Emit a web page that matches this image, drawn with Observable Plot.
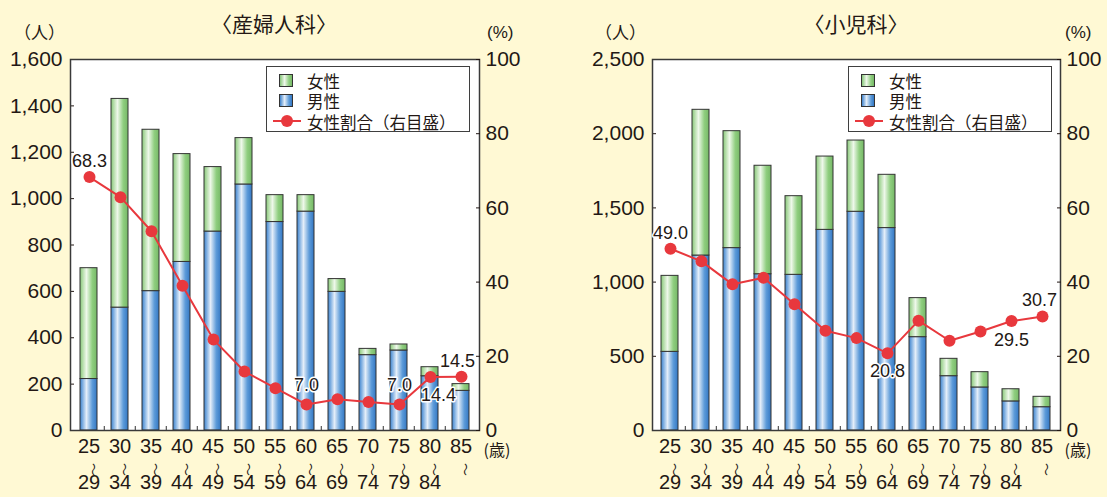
<!DOCTYPE html>
<html lang="ja">
<head>
<meta charset="utf-8">
<script src="https://cdn.jsdelivr.net/npm/d3@7"></script>
<script src="https://cdn.jsdelivr.net/npm/@observablehq/plot@0.6"></script>
<style>
  html, body { margin: 0; padding: 0; background: #fff9d4; }
  #wrap { position: relative; width: 1107px; height: 497px; overflow: hidden; color: #231815;
          font-family: "Liberation Sans", "Noto Sans CJK JP", sans-serif; }
  .panel { position: absolute; top: 0; height: 497px; }
  .panel svg { position: absolute; left: 0; top: 0; }
  .jp { font-family: "Noto Sans CJK JP", sans-serif; }
  .title { position: absolute; top: 10px; font-size: 21px; line-height: 26px; transform: translateX(-50%); white-space: nowrap; }
  .unit { position: absolute; font-size: 17px; line-height: 20px; white-space: nowrap; }
  .legend { position: absolute; top: 66px; width: 204px; height: 66px; border: 1.5px solid #3f3f3f; box-sizing: border-box; background: #fff; }
  .legend .row { position: absolute; left: 40px; font-size: 16.5px; line-height: 18px; white-space: nowrap; }
  .legend .sw { position: absolute; left: 12px; width: 14px; height: 13px; border: 1px solid #333; box-sizing: border-box; }
  .sw.green { background: linear-gradient(to right, #86c67a 0%, #eef8ea 38%, #8fce7f 75%, #76b867 100%); }
  .sw.blue { background: linear-gradient(to right, #3f83cc 0%, #e4eef9 38%, #5d9bd9 75%, #3377c3 100%); }
  .legend .ln { position: absolute; left: 6px; top: 53px; width: 28px; height: 2px; background: #e8383d; }
  .legend .pt { position: absolute; left: 14px; top: 48px; width: 12px; height: 12px; border-radius: 50%; background: #e8383d; }
</style>
</head>
<body>
<svg width="0" height="0" style="position:absolute">
  <defs>
    <linearGradient id="gBlue" x1="0" x2="1" y1="0" y2="0">
      <stop offset="0" stop-color="#3f83cc"/>
      <stop offset="0.12" stop-color="#6ea4dd"/>
      <stop offset="0.38" stop-color="#e4eef9"/>
      <stop offset="0.72" stop-color="#5d9bd9"/>
      <stop offset="1" stop-color="#3377c3"/>
    </linearGradient>
    <linearGradient id="gGreen" x1="0" x2="1" y1="0" y2="0">
      <stop offset="0" stop-color="#86c67a"/>
      <stop offset="0.12" stop-color="#a9d89c"/>
      <stop offset="0.38" stop-color="#eef8ea"/>
      <stop offset="0.72" stop-color="#8fce7f"/>
      <stop offset="1" stop-color="#76b867"/>
    </linearGradient>
  </defs>
</svg>
<div id="wrap">
  <div id="ob" class="panel" style="left:0;width:553px"></div>
  <div id="pd" class="panel" style="left:553px;width:554px"></div>

  <div class="title jp" style="left:274px">〈産婦人科〉</div>
  <div class="unit jp" style="left:14px;top:22px">（人）</div>
  <div class="unit" style="left:487px;top:23px">(%)</div>
  <div class="legend jp" style="left:266px">
    <span class="sw green" style="top:7px"></span><div class="row" style="top:5px">女性</div>
    <span class="sw blue" style="top:27px"></span><div class="row" style="top:25px">男性</div>
    <span class="ln"></span><span class="pt"></span><div class="row" style="top:46px">女性割合（右目盛）</div>
  </div>

  <div class="title jp" style="left:856px">〈小児科〉</div>
  <div class="unit jp" style="left:595px;top:22px">（人）</div>
  <div class="unit" style="left:1065px;top:23px">(%)</div>
  <div class="legend jp" style="left:848px">
    <span class="sw green" style="top:7px"></span><div class="row" style="top:5px">女性</div>
    <span class="sw blue" style="top:27px"></span><div class="row" style="top:25px">男性</div>
    <span class="ln"></span><span class="pt"></span><div class="row" style="top:46px">女性割合（右目盛）</div>
  </div>
</div>
<script>
// Age groups (歳)
const ageFrom = ["25", "30", "35", "40", "45", "50", "55", "60", "65", "70", "75", "80", "85"];
const ageTo   = ["29", "34", "39", "44", "49", "54", "59", "64", "69", "74", "79", "84", ""];

// 産婦人科: doctors by sex (人) and female share (%)
const obMale   = [222, 530, 601, 727, 858, 1061, 899, 944, 598, 325, 345, 234, 171];
const obFemale = [478, 900, 696, 465, 278, 200, 116, 71, 55, 27, 26, 39, 29];
const obShare  = [68.3, 62.9, 53.7, 39.0, 24.5, 15.9, 11.4, 7.0, 8.4, 7.7, 7.0, 14.4, 14.5];
const obTicks  = [0, 200, 400, 600, 800, 1000, 1200, 1400, 1600];

// 小児科: doctors by sex (人) and female share (%)
const pdMale   = [530, 1179, 1229, 1053, 1049, 1352, 1474, 1364, 629, 366, 290, 196, 157];
const pdFemale = [512, 982, 788, 731, 530, 494, 480, 359, 263, 117, 103, 82, 70];
const pdShare  = [49.0, 45.6, 39.4, 41.2, 34.0, 26.9, 24.9, 20.8, 29.6, 24.2, 26.7, 29.5, 30.7];
const pdTicks  = [0, 500, 1000, 1500, 2000, 2500];

// Right-hand scale (%)
const shareTicks = [0, 20, 40, 60, 80, 100];

const RED = "#e8383d";
const NUM_FONT = "'Liberation Sans', 'Noto Sans CJK JP', sans-serif";

function drawPanel(host, cfg) {
  const H = 497, mt = 59, mb = 67;
  const rows = ageFrom.map((a, i) => ({
    age: a, to: ageTo[i],
    male: cfg.male[i], female: cfg.female[i],
    total: cfg.male[i] + cfg.female[i],
    share: cfg.share[i]
  }));
  const innerW = cfg.width - cfg.ml - cfg.mr;
  const innerH = H - mt - mb;
  const step = innerW / ageFrom.length;
  const base = {
    width: cfg.width, height: H,
    marginLeft: cfg.ml, marginRight: cfg.mr, marginTop: mt, marginBottom: mb,
    style: {background: "transparent", color: "#231815", fontFamily: NUM_FONT, overflow: "visible"},
    x: {domain: ageFrom, paddingInner: 0.44, paddingOuter: 0.22, axis: null}
  };

  // Stacked bars: 男性 at the bottom, 女性 on top, left scale in persons
  const bars = Plot.plot({
    ...base,
    y: {domain: [0, cfg.yTicks[cfg.yTicks.length - 1]], axis: null},
    marks: [
      Plot.frame({fill: "white"}),
      Plot.barY(rows, {x: "age", y1: 0, y2: "male", fill: "url(#gBlue)", stroke: "#333", strokeWidth: 1}),
      Plot.barY(rows, {x: "age", y1: "male", y2: "total", fill: "url(#gGreen)", stroke: "#333", strokeWidth: 1}),
      // short upward ticks between age groups
      Plot.ruleX(ageFrom.slice(1), {x: d => d, dx: -step / 2, insetTop: innerH - 4, stroke: "#333"}),
      Plot.axisY({ticks: cfg.yTicks, tickFormat: d3.format(","), tickSize: -4, tickPadding: 12, fontSize: 21, label: null}),
      Plot.frame({stroke: "#3a3a3a", strokeWidth: 1.5}),
      // age group labels: start, vertical wave dash, end
      Plot.text(rows, {x: "age", text: "age", frameAnchor: "bottom", dy: 22, fontSize: 20}),
      Plot.text(rows, {x: "age", text: () => "〜", frameAnchor: "bottom", dy: 39, fontSize: 13, rotate: 90, fontFamily: "Noto Sans CJK JP"}),
      Plot.text(rows, {x: "age", text: "to", frameAnchor: "bottom", dy: 58, fontSize: 20}),
      Plot.text(["(歳)"], {text: d => d, frameAnchor: "bottom-right", textAnchor: "start", dx: 4, dy: 25, fontSize: 16, fontFamily: "Noto Sans CJK JP"})
    ]
  });

  // Female share line, right scale in %
  const line = Plot.plot({
    ...base,
    y: {domain: [0, 100], axis: null},
    marks: [
      Plot.axisY({anchor: "right", ticks: shareTicks, tickSize: -4, tickPadding: 10, fontSize: 21, label: null}),
      Plot.lineY(rows, {x: "age", y: "share", stroke: RED, strokeWidth: 2}),
      Plot.dot(rows, {x: "age", y: "share", r: 6, fill: RED}),
      ...cfg.labels.map(({i, dx = 0, dy}) =>
        Plot.text([rows[i]], {
          x: "age", y: "share", text: d => d.share.toFixed(1),
          dx, dy, fontSize: 18, fill: "#231815", stroke: "white", strokeWidth: 3
        }))
    ]
  });

  host.append(bars, line);
}

drawPanel(document.getElementById("ob"), {
  width: 553, ml: 70, mr: 74,
  male: obMale, female: obFemale, share: obShare, yTicks: obTicks,
  labels: [{i: 0, dy: -16}, {i: 7, dy: -19}, {i: 10, dy: -19}, {i: 11, dx: 8, dy: 18}, {i: 12, dx: -4, dy: -15}]
});

drawPanel(document.getElementById("pd"), {
  width: 554, ml: 99, mr: 47,
  male: pdMale, female: pdFemale, share: pdShare, yTicks: pdTicks,
  labels: [{i: 0, dy: -15}, {i: 7, dy: 18}, {i: 11, dy: 19}, {i: 12, dx: -3, dy: -16}]
});
</script>
</body>
</html>
